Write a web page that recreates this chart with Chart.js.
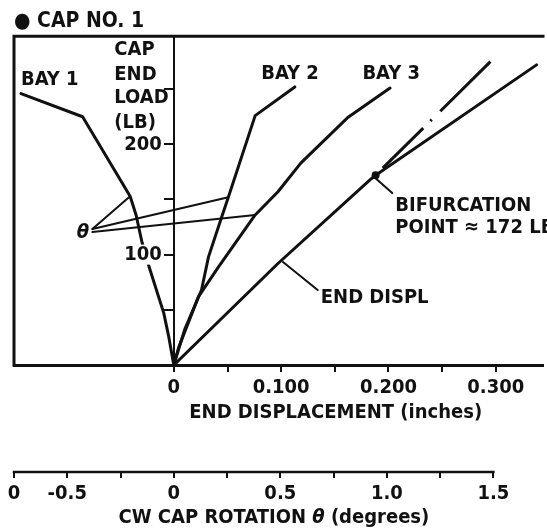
<!DOCTYPE html>
<html>
<head>
<meta charset="utf-8">
<script src="https://cdn.jsdelivr.net/npm/chart.js@4.4.1/dist/chart.umd.min.js"></script>
<style>
  html, body { margin: 0; padding: 0; background: #fff; }
  #wrap { width: 547px; height: 531px; }
</style>
</head>
<body>
<div id="wrap"><canvas id="capChart" width="547" height="531"></canvas></div>
<script>
// -------------------------
// Data
// -------------------------
// rotation curves (degrees vs lb)
const bay1Rot  = [0, -0.023, -0.047, -0.116, -0.149, -0.177, -0.205, -0.428, -0.717];
const bay1Load = [0, 25, 47, 89, 111, 136, 153, 225, 246];

const bay2Rot  = [0, 0.051, 0.130, 0.163, 0.228, 0.256, 0.382, 0.568];
const bay2Load = [0, 32, 68, 98, 136, 152, 226, 252];

const bay3Rot  = [0, 0.023, 0.116, 0.210, 0.382, 0.489, 0.596, 0.815, 1.015];
const bay3Load = [0, 16, 62, 89, 136, 157, 183, 224, 251];

// end displacement (inches vs lb)
const endDisp = [0, 0.097, 0.183, 0.188, 0.338];
const endLoad = [0, 92, 168, 172, 272];

// bifurcation branch
const bifurcationLoad = 172;
const branchDisp = [0.188, 0.295];
const branchLoad = [bifurcationLoad, 275];

// axes
const dispTicks = [0, 0.05, 0.1, 0.15, 0.2, 0.25, 0.3];
const dispTickLabels = ['0', '', '0.100', '', '0.200', '', '0.300'];
const rotTicks = [-0.75, -0.5, -0.25, 0, 0.25, 0.5, 0.75, 1.0, 1.25, 1.5];
const rotTickLabels = ['0', '-0.5', '', '0', '', '0.5', '', '1.0', '', '1.5'];
const loadTicks = [50, 100, 150, 200, 250];
const loadTickLabels = ['', '100', '', '200', ''];

// -------------------------
// Styles
// -------------------------
const INK = '#111';
const FAMILY = "'Liberation Sans Narrow', 'DejaVu Sans Condensed', 'Liberation Sans', sans-serif";
const font = { family: FAMILY, size: 20, weight: 'bold' };

const pts = (xs, ys) => xs.map((x, i) => ({ x: x, y: ys[i] }));

function curve(data, xAxisID, extra) {
    return Object.assign({
        data: data,
        xAxisID: xAxisID,
        showLine: true,
        borderColor: INK,
        borderWidth: 3,
        pointRadius: 0,
        tension: 0,
        borderCapStyle: 'round',
        borderJoinStyle: 'round'
    }, extra || {});
}

// leader lines and notes, in data units
const leaders = [
    { axis: 'rot', from: [-0.382, 123.2], to: [-0.205, 153] },
    { axis: 'rot', from: [-0.382, 123.2], to: [0.256, 152] },
    { axis: 'rot', from: [-0.382, 120.5], to: [0.382, 136] },
    { axis: 'x', from: [0.1017, 93.3], to: [0.134, 67.9] },
    { axis: 'x', from: [0.1864, 170.6], to: [0.2035, 155.8] }
];

const notes = [
    { text: 'BAY 1', x: -0.1424, y: 258.6 },
    { text: 'BAY 2', x: 0.0814, y: 264.0 },
    { text: 'BAY 3', x: 0.1757, y: 264.0 },
    { text: 'θ', x: -0.0906, y: 120.0, italic: true },
    { text: 'BIFURCATION', x: 0.2063, y: 144.5 },
    { text: 'POINT ≈ 172 LB', x: 0.2063, y: 124.5 },
    { text: 'END DISPL', x: 0.1369, y: 61.1 },
    { text: 'CAP', x: -0.0555, y: 285.3 },
    { text: 'END', x: -0.0555, y: 263.1 },
    { text: 'LOAD', x: -0.0555, y: 242.3 },
    { text: '(LB)', x: -0.0555, y: 219.7 }
];

// -------------------------
// Frame, second axis line, load labels, leaders and text
// -------------------------
const annotate = {
    id: 'annotate',
    afterDraw(chart) {
        const { ctx, chartArea: a, scales } = chart;
        const dx = scales.x, rx = scales.rot, ly = scales.y;
        ctx.save();
        ctx.strokeStyle = INK;
        ctx.fillStyle = INK;
        ctx.lineCap = 'square';

        // left and top of the frame
        ctx.lineWidth = 3;
        ctx.beginPath();
        ctx.moveTo(a.left, a.bottom);
        ctx.lineTo(a.left, a.top);
        ctx.lineTo(a.right, a.top);
        ctx.stroke();

        // rotation axis line
        ctx.lineWidth = 2.5;
        ctx.beginPath();
        ctx.moveTo(rx.getPixelForValue(rotTicks[0]), rx.top);
        ctx.lineTo(rx.getPixelForValue(rotTicks[rotTicks.length - 1]), rx.top);
        ctx.stroke();

        // load labels left of the vertical axis, on a white patch
        const axisX = dx.getPixelForValue(0);
        ctx.font = 'bold 20px ' + FAMILY;
        ctx.textBaseline = 'middle';
        ctx.textAlign = 'right';
        loadTicks.forEach((v, i) => {
            const t = loadTickLabels[i];
            if (!t) return;
            const yy = ly.getPixelForValue(v);
            const w = ctx.measureText(t).width;
            ctx.fillStyle = '#fff';
            ctx.fillRect(axisX - 12 - w - 2, yy - 10, w + 4, 20);
            ctx.fillStyle = INK;
            ctx.fillText(t, axisX - 12, yy);
        });

        // leaders
        ctx.lineWidth = 2;
        ctx.lineCap = 'round';
        leaders.forEach(l => {
            const sx = scales[l.axis];
            ctx.beginPath();
            ctx.moveTo(sx.getPixelForValue(l.from[0]), ly.getPixelForValue(l.from[1]));
            ctx.lineTo(sx.getPixelForValue(l.to[0]), ly.getPixelForValue(l.to[1]));
            ctx.stroke();
        });

        // notes
        ctx.textAlign = 'left';
        notes.forEach(n => {
            ctx.font = (n.italic ? 'italic ' : '') + 'bold 20px ' + FAMILY;
            ctx.fillText(n.text, dx.getPixelForValue(n.x), ly.getPixelForValue(n.y));
        });

        // axis titles
        ctx.font = 'bold 20px ' + FAMILY;
        ctx.textAlign = 'center';
        ctx.fillText('END DISPLACEMENT (inches)', dx.getPixelForValue(0.1508), dx.top + 48);

        const parts = [
            { t: 'CW CAP ROTATION ', f: 'bold 20px ' + FAMILY },
            { t: 'θ', f: 'italic bold 20px ' + FAMILY },
            { t: ' (degrees)', f: 'bold 20px ' + FAMILY }
        ];
        let total = 0;
        parts.forEach(p => { ctx.font = p.f; p.w = ctx.measureText(p.t).width; total += p.w; });
        let cx = rx.getPixelForValue(0.47) - total / 2;
        ctx.textAlign = 'left';
        parts.forEach(p => {
            ctx.font = p.f;
            ctx.fillText(p.t, cx, rx.top + 46);
            cx += p.w;
        });
        ctx.restore();
    }
};

// -------------------------
// Chart
// -------------------------
const ctx = document.getElementById('capChart').getContext('2d');

new Chart(ctx, {
    type: 'scatter',
    data: {
        datasets: [
            curve(pts(bay1Rot, bay1Load), 'rot'),
            curve(pts(bay2Rot, bay2Load), 'rot'),
            curve(pts(bay3Rot, bay3Load), 'rot'),
            curve(pts(endDisp, endLoad), 'x'),
            curve(pts(branchDisp, branchLoad), 'x', {
                // gap, long dash, gap, dot, gap, long dash
                borderDash: [0.01, 10, 57, 10, 2, 12, 90, 10],
                borderCapStyle: 'butt'
            }),
            {
                data: [{ x: endDisp[3], y: bifurcationLoad }],
                xAxisID: 'x',
                pointRadius: 4,
                pointBackgroundColor: INK,
                pointBorderWidth: 0
            }
        ]
    },
    options: {
        responsive: false,
        animation: false,
        devicePixelRatio: 1,
        layout: { padding: { left: 14, right: 0, top: 0, bottom: 0 } },
        plugins: {
            legend: { display: false },
            tooltip: { enabled: false },
            title: {
                display: true,
                text: '● CAP NO. 1',
                align: 'start',
                color: INK,
                font: { family: FAMILY, size: 21, weight: 'bold' },
                padding: { top: 9, bottom: 2 }
            }
        },
        scales: {
            x: {
                type: 'linear',
                position: 'bottom',
                min: -0.149,
                max: 0.344,
                weight: 0,
                afterBuildTicks: s => { s.ticks = dispTicks.map(v => ({ value: v })); },
                afterFit: s => { s.height = 107; },
                border: { color: INK, width: 3 },
                grid: { drawOnChartArea: false, tickLength: 7, color: INK, lineWidth: 2 },
                ticks: {
                    color: INK,
                    font: font,
                    padding: 4,
                    maxRotation: 0,
                    autoSkip: false,
                    callback: (v, i) => dispTickLabels[i]
                }
            },
            rot: {
                type: 'linear',
                position: 'bottom',
                min: -0.75,
                max: 1.733,
                weight: 1,
                afterBuildTicks: s => { s.ticks = rotTicks.map(v => ({ value: v })); },
                afterFit: s => { s.height = 59; },
                border: { display: false },
                grid: { drawOnChartArea: false, tickLength: 6, color: INK, lineWidth: 2 },
                ticks: {
                    color: INK,
                    font: font,
                    padding: 4,
                    maxRotation: 0,
                    autoSkip: false,
                    callback: (v, i) => rotTickLabels[i]
                }
            },
            y: {
                type: 'linear',
                position: { x: 0 },
                min: 0,
                max: 298,
                afterBuildTicks: s => { s.ticks = loadTicks.map(v => ({ value: v })); },
                border: { color: INK, width: 2 },
                grid: { drawOnChartArea: false, tickLength: 9, color: INK, lineWidth: 2 },
                ticks: { display: false }
            }
        }
    },
    plugins: [annotate]
});
</script>
</body>
</html>
